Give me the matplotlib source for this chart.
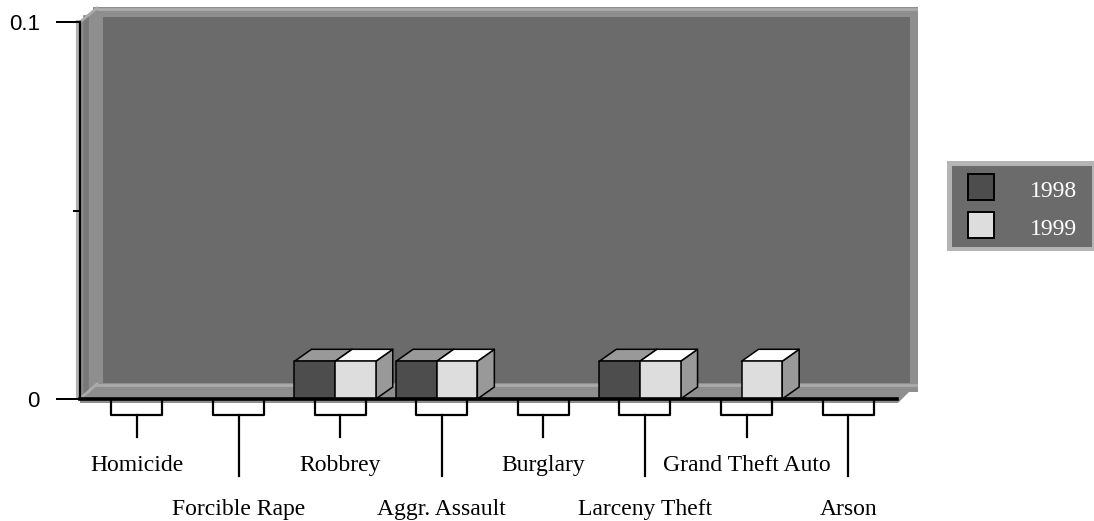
import numpy as np
import matplotlib
matplotlib.use('Agg')
import matplotlib.pyplot as plt
from matplotlib.patches import Polygon, Rectangle
from matplotlib.lines import Line2D

# ── data ──────────────────────────────────────────────────────────────────────
categories = ['Homicide', 'Forcible Rape', 'Robbrey', 'Aggr. Assault',
              'Burglary', 'Larceny Theft', 'Grand Theft Auto', 'Arson']
vals_1998 = [0, 0, 0.01, 0.01, 0, 0.01, 0, 0]
vals_1999 = [0, 0, 0.01, 0.01, 0, 0.01, 0.01, 0]
series_names = ['1998', '1999']
ytick_vals = [0, 0.1]
ytick_labels = ['0', '0.1']

# ── colours ───────────────────────────────────────────────────────────────────
WALL_DARK = '#6b6b6b'
WALL_MID = '#8e8e8e'
WALL_LIGHT = '#ababab'
FRONT = ['#4d4d4d', '#dddddd']
TOP = ['#999999', '#ffffff']
SIDE = ['#3a3a3a', '#999999']

SERIF = ['Liberation Serif', 'DejaVu Serif']
SANS = ['Liberation Sans', 'DejaVu Sans']

W, H = 1094, 521
fig = plt.figure(figsize=(W / 100, H / 100), dpi=100)
fig.patch.set_facecolor('white')

# plot area (front plane) in pixels
PX_L, PX_R, PX_T, PX_B = 80, 900, 22, 399
XMIN, XMAX = -0.561, 7.51
YMAX = 0.1
ax = fig.add_axes([PX_L / W, (H - PX_B) / H, (PX_R - PX_L) / W, (PX_B - PX_T) / H])
ax.set_xlim(XMIN, XMAX)
ax.set_ylim(0, YMAX)
ax.patch.set_visible(False)

def dx(px):
    return XMIN + (px - PX_L) * (XMAX - XMIN) / (PX_R - PX_L)

def dy(py):
    return (PX_B - py) * YMAX / (PX_B - PX_T)

DDX = dx(PX_L + 17) - dx(PX_L)   # depth offset of bars
DDY = dy(PX_B - 12)

def poly(pts, **kw):
    ax.add_patch(Polygon([(dx(x), dy(y)) for x, y in pts], closed=True,
                         clip_on=False, **kw))

def pline(xs, ys, **kw):
    ax.add_line(Line2D([dx(x) for x in xs], [dy(y) for y in ys],
                       clip_on=False, **kw))

# ── walls ─────────────────────────────────────────────────────────────────────
poly([(93, 7), (918, 7), (918, 392), (93, 392)], facecolor=WALL_MID, edgecolor='none', zorder=0)
poly([(103, 17), (910, 17), (910, 383), (103, 383)], facecolor=WALL_DARK, edgecolor='none', zorder=0.1)
pline([97, 916], [9, 9], color=WALL_LIGHT, lw=2, zorder=0.2)
poly([(80, 22), (97, 8), (97, 392), (80, 399)], facecolor=WALL_MID, edgecolor='none', zorder=0.2)
pline([86, 86], [18, 394], color='#787878', lw=4, zorder=0.25)
pline([80, 97], [22, 8], color=WALL_LIGHT, lw=2, zorder=0.3)
poly([(80, 399), (97, 383), (918, 383), (898, 403), (80, 403)], facecolor=WALL_MID,
     edgecolor='none', zorder=0.3)
pline([97, 916], [385, 385], color=WALL_LIGHT, lw=2, zorder=0.35)
pline([82, 97], [397, 384], color=WALL_LIGHT, lw=2, zorder=0.35)
pline([78, 78], [22, 396], color='#b0b0b0', lw=3, zorder=0.35)

# ── 3D bars ───────────────────────────────────────────────────────────────────
BW = 0.40
offsets = [-0.45, -0.05]
for s, vals in enumerate([vals_1998, vals_1999]):
    for i, v in enumerate(vals):
        if v <= 0:
            continue
        x0 = i + offsets[s]
        x1 = x0 + BW
        kw = dict(edgecolor='black', linewidth=1.1, joinstyle='round', zorder=2 + s)
        ax.add_patch(Polygon([(x1, 0), (x1 + DDX, DDY), (x1 + DDX, v + DDY), (x1, v)],
                             facecolor=SIDE[s], **kw))
        ax.add_patch(Polygon([(x0, v), (x0 + DDX, v + DDY), (x1 + DDX, v + DDY), (x1, v)],
                             facecolor=TOP[s], **kw))
        ax.add_patch(Rectangle((x0, 0), BW, v, facecolor=FRONT[s], **kw))

# ── axes styling ──────────────────────────────────────────────────────────────
for side in ['top', 'right']:
    ax.spines[side].set_visible(False)
ax.spines['left'].set_linewidth(1.6)
ax.spines['bottom'].set_linewidth(2.6)
ax.spines['bottom'].set_bounds(XMIN, dx(897))
ax.spines['left'].set_zorder(5)
ax.spines['bottom'].set_zorder(5)
ax.set_xticks([])
ax.set_yticks(ytick_vals)
ax.set_yticklabels(ytick_labels, family=SANS, fontsize=16)
ax.set_yticks([YMAX / 2], minor=True)
ax.tick_params(axis='y', which='major', length=17.3, width=1.44, pad=11.5, direction='out')
ax.tick_params(axis='y', which='minor', length=5, width=1.44, direction='out')

# ── category brackets & staggered labels ──────────────────────────────────────
half = dx(PX_L + 25.5) - dx(PX_L)
for i, name in enumerate(categories):
    low = i % 2 == 1
    ax.add_line(Line2D([i - half, i - half, i + half, i + half],
                       [dy(401), dy(415), dy(415), dy(401)],
                       color='black', lw=1.6, clip_on=False, zorder=4))
    ax.add_line(Line2D([i, i], [dy(415), dy(476 if low else 437)],
                       color='black', lw=1.6, clip_on=False, zorder=4))
    ax.text(i, dy(515 if low else 471), name, ha='center', va='baseline',
            family=SERIF, fontsize=17, clip_on=False)

# ── legend (drawn by hand in figure pixels) ───────────────────────────────────
def fx(px):
    return px / W

def fy(py):
    return (H - py) / H

fig.patches.append(Rectangle((fx(947), fy(251)), fx(1100) - fx(947), fy(161) - fy(251),
                             transform=fig.transFigure, facecolor='#b4b4b4',
                             edgecolor='none', zorder=1))
fig.patches.append(Rectangle((fx(952), fy(247)), fx(1092) - fx(952), fy(166) - fy(247),
                             transform=fig.transFigure, facecolor=WALL_DARK,
                             edgecolor='none', zorder=2))
for s, name in enumerate(series_names):
    top = 174 + 38 * s
    fig.patches.append(Rectangle((fx(968), fy(top + 26)), fx(994) - fx(968), fy(top) - fy(top + 26),
                                 transform=fig.transFigure, facecolor=FRONT[s],
                                 edgecolor='black', linewidth=1.4, zorder=3))
    fig.text(fx(1030), fy(top + 23), name, ha='left', va='baseline', color='white',
             family=SERIF, fontsize=17)

fig.savefig('out.png', dpi=100, facecolor='white')
